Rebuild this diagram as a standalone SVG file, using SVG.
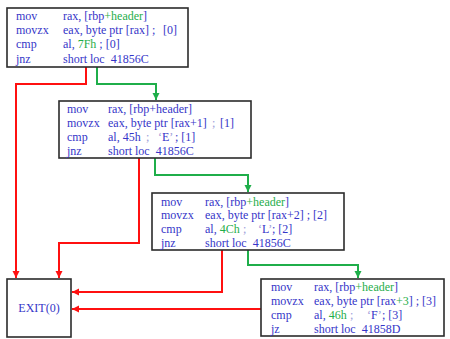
<svg xmlns="http://www.w3.org/2000/svg" width="450" height="339" viewBox="0 0 450 339">
<style>
.box{fill:#fff;stroke:#2b2b2b;stroke-width:1.6}
text{font-family:"Liberation Serif","Times New Roman",serif;font-size:12px;fill:#3535c8}
.g{fill:#1fae4a}
.l{fill:#9a9ad8}
.r{fill:none;stroke:#ff1010;stroke-width:2}
.gr{fill:none;stroke:#1fae4a;stroke-width:2}
</style>
<defs>
<marker id="ar" markerWidth="8" markerHeight="8" refX="7" refY="4" orient="auto" markerUnits="userSpaceOnUse"><path d="M0,0.5 L7,4 L0,7.5 Z" fill="#ff1010"/></marker>
<marker id="ag" markerWidth="8" markerHeight="8" refX="7" refY="4" orient="auto" markerUnits="userSpaceOnUse"><path d="M0,0.5 L7,4 L0,7.5 Z" fill="#1fae4a"/></marker>
</defs>
<g id="connectors">
<polyline class="r" points="86,67 86,84 16,84 16,278" marker-end="url(#ar)"/>
<polyline class="gr" points="97,67 97,84 156,84 156,100" marker-end="url(#ag)"/>
<polyline class="r" points="139,158 139,243 59,243 59,278" marker-end="url(#ar)"/>
<polyline class="gr" points="155,158 155,175 248,175 248,192" marker-end="url(#ag)"/>
<polyline class="r" points="222,250 222,292 72,292" marker-end="url(#ar)"/>
<polyline class="gr" points="248,250 248,265 358,265 358,278" marker-end="url(#ag)"/>
<polyline class="r" points="261,309 72,309" marker-end="url(#ar)"/>
</g>
<g id="block0">
<rect class="box" x="7" y="8" width="181" height="59"/>
<text x="16" y="20">mov</text><text x="63" y="20">rax, [rbp<tspan class="g">+header</tspan>]</text>
<text x="16" y="34">movzx</text><text x="63" y="34">eax, byte ptr [rax] ;</text><text x="163" y="34">[0]</text>
<text x="16" y="48">cmp</text><text x="63" y="48">al, <tspan class="g">7Fh</tspan> ; [0]</text>
<text x="16" y="63">jnz</text><text x="63" y="63">short loc<tspan dx="6">41856C</tspan></text>
</g>
<g id="block1">
<rect class="box" x="59" y="101" width="192" height="57"/>
<text x="67" y="113">mov</text><text x="108" y="113">rax, [rbp+header]</text>
<text x="67" y="127">movzx</text><text x="108" y="127">eax, byte ptr [rax+1]</text><text x="212" y="127" class="l">;</text><text x="220" y="127">[1]</text>
<text x="67" y="141">cmp</text><text x="108" y="141">al, 45h</text><text x="146" y="141" class="l">;</text><text x="158" y="141"><tspan class="l">‘</tspan>E<tspan class="l">’</tspan></text><text x="175" y="141">; [1]</text>
<text x="67" y="155">jnz</text><text x="108" y="155">short loc<tspan dx="6">41856C</tspan></text>
</g>
<g id="block2">
<rect class="box" x="152" y="193" width="192" height="57"/>
<text x="161" y="206">mov</text><text x="205" y="206">rax, [rbp<tspan class="g">+header</tspan>]</text>
<text x="161" y="219">movzx</text><text x="205" y="219">eax, byte ptr [rax+2] ; [2]</text>
<text x="161" y="233">cmp</text><text x="205" y="233">al, <tspan class="g">4Ch</tspan></text><text x="243" y="233" class="l">;</text><text x="258" y="233"><tspan class="l">‘</tspan>L<tspan class="l">’</tspan></text><text x="272" y="233">; [2]</text>
<text x="161" y="247">jnz</text><text x="205" y="247">short loc<tspan dx="6">41856C</tspan></text>
</g>
<g id="block3">
<rect class="box" x="261" y="279" width="183" height="57"/>
<text x="271" y="291">mov</text><text x="314" y="291">rax, [rbp<tspan class="g">+header</tspan>]</text>
<text x="271" y="305">movzx</text><text x="314" y="305">eax, byte ptr [rax<tspan class="g">+3</tspan>] ; [3]</text>
<text x="271" y="319">cmp</text><text x="314" y="319">al, <tspan class="g">46h</tspan></text><text x="350" y="319" class="l">;</text><text x="367" y="319"><tspan class="l">‘</tspan>F<tspan class="l">’</tspan></text><text x="382" y="319">; [3]</text>
<text x="271" y="333">jz</text><text x="314" y="333">short loc<tspan dx="6">41858D</tspan></text>
</g>
<g id="exit">
<rect class="box" x="7" y="279" width="64" height="58"/>
<text x="39" y="312" text-anchor="middle">EXIT(0)</text>
</g>
</svg>
